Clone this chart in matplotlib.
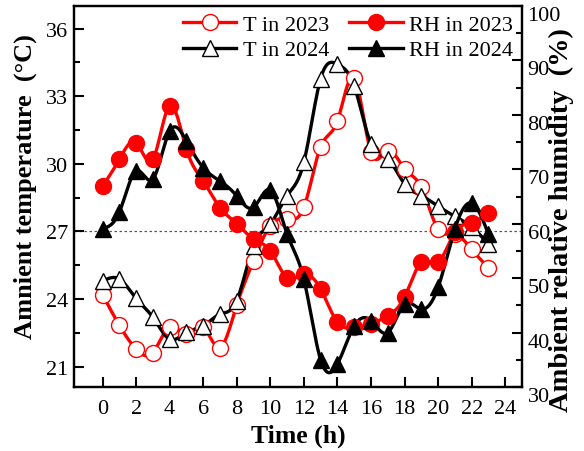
import numpy as np
import matplotlib
matplotlib.use('Agg')
import matplotlib.pyplot as plt
from matplotlib.ticker import MultipleLocator

plt.rcParams['font.family'] = ['Liberation Serif', 'DejaVu Serif']
plt.rcParams['mathtext.fontset'] = 'stix'

hours = np.arange(24)
t_2023 = [24.2, 22.84, 21.78, 21.63, 22.77, 22.44, 22.74, 21.85, 23.73, 25.7, 27.26, 27.56,
          28.07, 30.75, 31.9, 33.82, 30.52, 30.59, 29.78, 28.96, 27.1, 26.9, 26.2, 25.4]
t_2024 = [24.8, 24.89, 24.03, 23.19, 22.22, 22.52, 22.81, 23.33, 23.93, 26.37, 27.33, 28.59,
          30.07, 33.78, 34.42, 33.45, 30.89, 30.22, 29.11, 28.59, 28.12, 27.67, 27.2, 26.44]
rh_2023 = [66.9, 71.8, 74.9, 71.8, 81.7, 73.7, 67.85, 62.97, 60.0, 57.2, 55.0, 50.1,
           50.7, 48.0, 41.9, 40.95, 41.6, 43.1, 46.5, 52.9, 52.9, 58.4, 60.2, 61.9]
rh_2024 = [59.1, 62.1, 69.7, 68.2, 77.0, 75.2, 70.3, 67.85, 65.1, 63.0, 66.2, 58.1,
           49.8, 35.0, 34.2, 41.2, 42.2, 40.0, 45.2, 44.3, 48.3, 59.0, 63.8, 58.1]


def spline(x, y, n=12):
    # natural cubic spline for the connecting lines
    x = np.asarray(x, float)
    y = np.asarray(y, float)
    m = len(x)
    h = np.diff(x)
    A = np.zeros((m, m))
    b = np.zeros(m)
    A[0, 0] = A[-1, -1] = 1
    for i in range(1, m - 1):
        A[i, i - 1] = h[i - 1]
        A[i, i] = 2 * (h[i - 1] + h[i])
        A[i, i + 1] = h[i]
        b[i] = 6 * ((y[i + 1] - y[i]) / h[i] - (y[i] - y[i - 1]) / h[i - 1])
    M = np.linalg.solve(A, b)
    xs, ys = [], []
    for i in range(m - 1):
        t = np.linspace(x[i], x[i + 1], n, endpoint=False)
        a = x[i + 1] - t
        c = t - x[i]
        s = (M[i] * a ** 3 + M[i + 1] * c ** 3) / (6 * h[i]) \
            + (y[i] / h[i] - M[i] * h[i] / 6) * a + (y[i + 1] / h[i] - M[i + 1] * h[i] / 6) * c
        xs.extend(t)
        ys.extend(s)
    xs.append(x[-1])
    ys.append(y[-1])
    return np.array(xs), np.array(ys)


fig = plt.figure(figsize=(5.84, 4.52), dpi=100)
ax = fig.add_axes([0.1267, 0.1416, 0.7671, 0.8429])
ax2 = ax.twinx()

lw = 2.4
ms = 11.5

ax.axhline(27, color='0.35', lw=0.9, ls=(0, (2, 2)), zorder=1)

for data, col, mk in [(t_2023, 'red', 'o'), (t_2024, 'black', '^')]:
    sx, sy = spline(hours, data)
    ax.plot(sx, sy, color=col, lw=lw, zorder=2)
    ax.plot(hours, data, ls='none', marker=mk, ms=ms, mfc='white', mec=col, mew=1.0, zorder=3)

for data, col, mk in [(rh_2023, 'red', 'o'), (rh_2024, 'black', '^')]:
    sx, sy = spline(hours, data)
    ax2.plot(sx, sy, color=col, lw=lw, zorder=2)
    ax2.plot(hours, data, ls='none', marker=mk, ms=ms, mfc=col, mec=col, mew=1.0, zorder=3)

# legend proxies
h1, = ax2.plot([], [], color='red', lw=lw, marker='o', ms=ms, mfc='white', mec='red', mew=1.0)
h2, = ax2.plot([], [], color='black', lw=lw, marker='^', ms=ms, mfc='white', mec='black', mew=1.0)
h3, = ax2.plot([], [], color='red', lw=lw, marker='o', ms=ms, mfc='red', mec='red')
h4, = ax2.plot([], [], color='black', lw=lw, marker='^', ms=ms, mfc='black', mec='black')
ax2.legend([h1, h2, h3, h4], ['T in 2023', 'T in 2024', 'RH in 2023', 'RH in 2024'],
           ncol=2, loc='upper left', bbox_to_anchor=(0.243, 0.978), frameon=False,
           fontsize=16, handlelength=2.4, handletextpad=0.3, columnspacing=0.9,
           labelspacing=0.22, borderpad=0, borderaxespad=0, numpoints=1)

ax.set_xlim(-1.7, 25)
ax.set_ylim(20.1, 37)
ax2.set_ylim(30, 100)

ax.set_xticks(range(0, 25, 2))
ax.set_yticks([21, 24, 27, 30, 33, 36])
ax.yaxis.set_minor_locator(MultipleLocator(1.5))
ax2.set_yticks(range(30, 101, 10))
ax2.yaxis.set_minor_locator(MultipleLocator(5))

ax.tick_params(axis='both', which='major', direction='in', length=7, width=1.5, labelsize=16)
ax.tick_params(axis='x', pad=9)
ax.tick_params(axis='y', pad=4)
ax.tick_params(axis='y', which='minor', direction='in', length=4.5, width=1.5)
ax.tick_params(axis='x', which='minor', bottom=False)
ax2.tick_params(axis='y', which='major', direction='in', length=7, width=1.5, labelsize=16, pad=4)
ax2.tick_params(axis='y', which='minor', direction='in', length=4.5, width=1.5)
for lab in ax2.get_yticklabels():
    lab.set_va('top')

for sp in ax.spines.values():
    sp.set_linewidth(1.6)
for sp in ax2.spines.values():
    sp.set_linewidth(1.6)

ax.set_xlabel('Time (h)', fontsize=18.5, fontweight='bold')
ax.xaxis.set_label_coords(0.5, -0.095)
ax.set_ylabel('Amnient temperature  (\u00b0C)', fontsize=19, fontweight='bold')
ax.yaxis.set_label_coords(-0.082, 0.528)
ax2.set_ylabel('Ambient relative humidity  (%)', fontsize=20.5, fontweight='bold')
ax2.yaxis.set_label_coords(1.06, 0.44)

fig.savefig('out.png', dpi=100)
